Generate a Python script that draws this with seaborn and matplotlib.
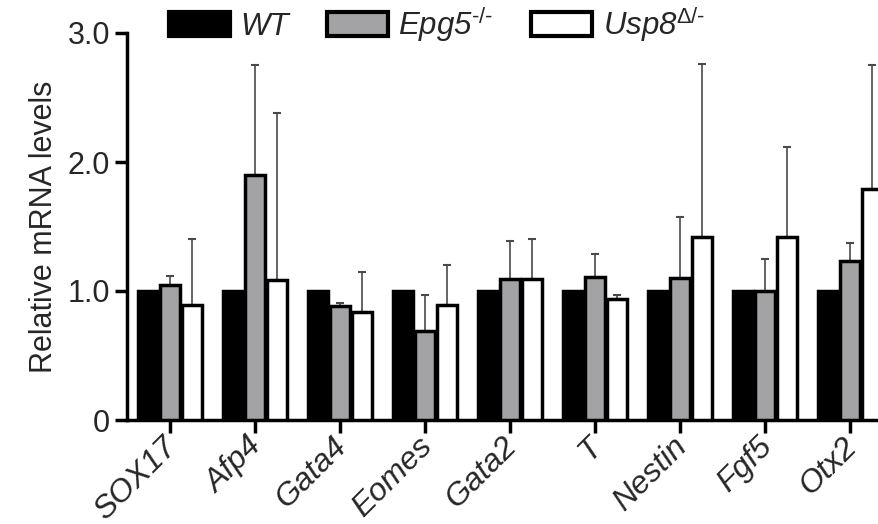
import numpy as np
import pandas as pd
import seaborn as sns
import matplotlib
matplotlib.use("Agg")
import matplotlib.pyplot as plt
from matplotlib.transforms import ScaledTranslation

# values
genes = ["SOX17", "Afp4", "Gata4", "Eomes", "Gata2", "T", "Nestin", "Fgf5", "Otx2"]
groups = ["WT", "Epg5", "Usp8"]
group_labels = ["WT", r"Epg5$^{\text{-/-}}$", r"Usp8$^{\Delta\text{/-}}$"]
wt_mean = [1.0, 1.0, 1.0, 1.0, 1.0, 1.0, 1.0, 1.0, 1.0]
wt_err = [0, 0, 0, 0, 0, 0, 0, 0, 0]
epg5_mean = [1.05, 1.90, 0.88, 0.69, 1.09, 1.11, 1.10, 1.00, 1.235]
epg5_err = [0.07, 0.85, 0.03, 0.28, 0.30, 0.18, 0.47, 0.25, 0.135]
usp8_mean = [0.89, 1.085, 0.84, 0.89, 1.09, 0.94, 1.42, 1.42, 1.79]
usp8_err = [0.51, 1.295, 0.31, 0.31, 0.31, 0.03, 1.34, 0.70, 0.96]
colors = ["#000000", "#a2a2a6", "#ffffff"]

sns.set_style("ticks")
plt.rcParams["font.family"] = ["Liberation Sans", "DejaVu Sans"]
plt.rcParams["mathtext.fontset"] = "custom"
plt.rcParams["mathtext.rm"] = "Liberation Sans"
plt.rcParams["mathtext.it"] = "Liberation Sans:italic"
plt.rcParams["mathtext.sf"] = "Liberation Sans"

df = pd.DataFrame({
    "gene": genes * 3,
    "group": [g for g in groups for _ in genes],
    "value": wt_mean + epg5_mean + usp8_mean,
    "err": wt_err + epg5_err + usp8_err,
})

fig = plt.figure(figsize=(8.79, 5.24), dpi=100)
ax = fig.add_axes([127 / 879, 1 - 420 / 524, 1 - 127 / 879, (420 - 33) / 524])

sns.barplot(data=df, x="gene", y="value", hue="group", hue_order=groups,
            palette=colors, errorbar=None, width=0.78, gap=0.1,
            edgecolor="black", linewidth=2.5, ax=ax, zorder=3)

# error bars (upper only), placed on the bars seaborn drew
bars = [p for p in ax.patches if p.get_height() > 0][:len(df)]
for p, err in zip(bars, df["err"]):
    if err <= 0:
        continue
    xc = p.get_x() + p.get_width() / 2
    ax.errorbar(xc, p.get_height(), yerr=[[0], [err]], fmt="none",
                ecolor="#4a4a4a", elinewidth=1.2, capsize=3, capthick=1.5, zorder=2)

ax.set_ylim(0, 3.0)
ax.set_xlim(-0.506, 8.34)
ax.set_yticks([0, 1, 2, 3])
ax.set_yticklabels(["0", "1.0", "2.0", "3.0"], fontsize=22)
ax.set_xticks(range(len(genes)))
ax.set_xticklabels(genes, fontsize=23, style="italic", rotation=45,
                   ha="right", rotation_mode="anchor")
ax.set_xlabel("")
ax.set_ylabel("Relative mRNA levels", fontsize=22, labelpad=6)
ax.tick_params(axis="both", length=9, width=2.5, color="black", pad=3)
sns.despine(ax=ax)
for s in ["left", "bottom"]:
    ax.spines[s].set_linewidth(2.5)
    ax.spines[s].set_color("black")

# nudge the rotated gene names up-left, like the reference
shift = ScaledTranslation(-0.08, 0.05, fig.dpi_scale_trans)
for tick in ax.xaxis.get_major_ticks():
    tick.label1.set_transform(tick.label1.get_transform() + shift)

handles, _ = ax.get_legend_handles_labels()
ax.get_legend().remove()
leg = fig.legend(handles, group_labels, loc="center", bbox_to_anchor=(0.497, 0.953),
                 ncol=3, frameon=False, prop={"size": 22.5, "style": "italic"},
                 handlelength=1.95, handleheight=0.8,
                 handletextpad=0.35, columnspacing=1.2, borderpad=0)
for h in leg.legend_handles:
    h.set_linewidth(3)

fig.savefig("out.png", dpi=100)
